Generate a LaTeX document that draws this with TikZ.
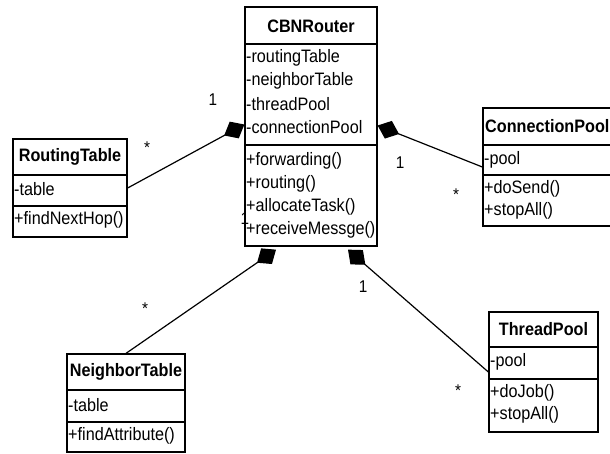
\documentclass[tikz,border=0pt]{standalone}
\usepackage{fontspec}
\setmainfont{Liberation Sans}
\newfontfamily\umlfont[FakeStretch=0.9]{Liberation Sans}
\usetikzlibrary{arrows.meta}
\pgfdeclarelayer{bg}
\pgfsetlayers{bg,main}
\begin{document}
\begin{tikzpicture}[x=1pt,y=-1pt,
  classbox/.style={draw=black, line width=1.3pt, fill=white, inner sep=0pt},
  divider/.style={line width=1.3pt},
  conn/.style={line width=1.2pt, -{Diamond[length=23pt,width=19pt,fill=black]}},
  ttl/.style={font=\umlfont\fontsize{18}{20}\selectfont\bfseries, inner sep=0pt},
  mem/.style={font=\umlfont\fontsize{18}{20}\selectfont, anchor=west, inner sep=0pt},
  mult/.style={font=\umlfont\fontsize{17}{19}\selectfont, inner sep=0pt}]
\useasboundingbox (0,0) rectangle (610,453);

% CBNRouter: x 245-377, y 7-246
\node[classbox, minimum width=132pt, minimum height=239pt] (cbn) at (311,126.5) {};
\draw[divider] (cbn.west |- 0,44) -- (cbn.east |- 0,44);
\draw[divider] (cbn.west |- 0,145) -- (cbn.east |- 0,145);
\node[ttl] (cbnt) at (311,26) {CBNRouter};
\node[mem] (cbna1) at (246,58) {-routingTable};
\node[mem] (cbna2) at (246,81) {-neighborTable};
\node[mem] (cbna3) at (246,104) {-threadPool};
\node[mem] (cbna4) at (246,127) {-connectionPool};
\node[mem] (cbnm1) at (246,161) {+forwarding()};
\node[mem] (cbnm2) at (246,184) {+routing()};
\node[mem] (cbnm3) at (246,207) {+allocateTask()};
\node[mem] (cbnm4) at (246,230) {+receiveMessge()};

% RoutingTable: x 13-127, y 139-237
\node[classbox, minimum width=114pt, minimum height=98pt] (rt) at (70,188) {};
\draw[divider] (rt.west |- 0,175) -- (rt.east |- 0,175);
\draw[divider] (rt.west |- 0,206) -- (rt.east |- 0,206);
\node[ttl] (rtt) at (70,157) {RoutingTable};
\node[mem] (rta1) at (14,189) {-table};
\node[mem] (rtm1) at (14,220) {+findNextHop()};

% ConnectionPool: x 483-(beyond), y 108-226
\node[classbox, minimum width=140pt, minimum height=118pt] (cp) at (553,167) {};
\draw[divider] (cp.west |- 0,145) -- (cp.east |- 0,145);
\draw[divider] (cp.west |- 0,175) -- (cp.east |- 0,175);
\node[ttl, anchor=west] (cpt) at (485,126) {ConnectionPool};
\node[mem] (cpa1) at (484,160) {-pool};
\node[mem] (cpm1) at (484,189) {+doSend()};
\node[mem] (cpm2) at (484,211) {+stopAll()};

% NeighborTable: x 67-185, y 354-452
\node[classbox, minimum width=118pt, minimum height=98pt] (nt) at (126,403) {};
\draw[divider] (nt.west |- 0,390) -- (nt.east |- 0,390);
\draw[divider] (nt.west |- 0,422) -- (nt.east |- 0,422);
\node[ttl] (ntt) at (126,372) {NeighborTable};
\node[mem] (nta1) at (68,405) {-table};
\node[mem] (ntm1) at (68,436) {+findAttribute()};

% ThreadPool: x 489-598, y 312-432
\node[classbox, minimum width=109pt, minimum height=120pt] (tp) at (543.5,372) {};
\draw[divider] (tp.west |- 0,347) -- (tp.east |- 0,347);
\draw[divider] (tp.west |- 0,379) -- (tp.east |- 0,379);
\node[ttl] (tpt) at (543.5,329) {ThreadPool};
\node[mem] (tpa1) at (490,362) {-pool};
\node[mem] (tpm1) at (490,393) {+doJob()};
\node[mem] (tpm2) at (490,415) {+stopAll()};

% connectors (composition), behind the boxes
\begin{pgfonlayer}{bg}
\fill[white] (0,0) rectangle (610,453);
\draw[conn] (rt.east) -- ([yshift=2pt]cbn.west);
\draw[conn] (cp.west) -- ([yshift=1pt]cbn.east);
\draw[conn] (nt.north) -- ([xshift=-35pt,yshift=-3pt]cbn.south);
\draw[conn] (tp.west) -- ([xshift=37pt,yshift=-3pt]cbn.south);
\end{pgfonlayer}

% multiplicities
\node[mult] (m1) at (213,100) {1};
\node[mult] (m2) at (147,148) {*};
\node[mult] (m3) at (400,163) {1};
\node[mult] (m4) at (456,195) {*};
\node[mult] (m5) at (245,219) {1};
\node[mult] (m6) at (145,309) {*};
\node[mult] (m7) at (363,287) {1};
\node[mult] (m8) at (458,391) {*};
\end{tikzpicture}
\end{document}
